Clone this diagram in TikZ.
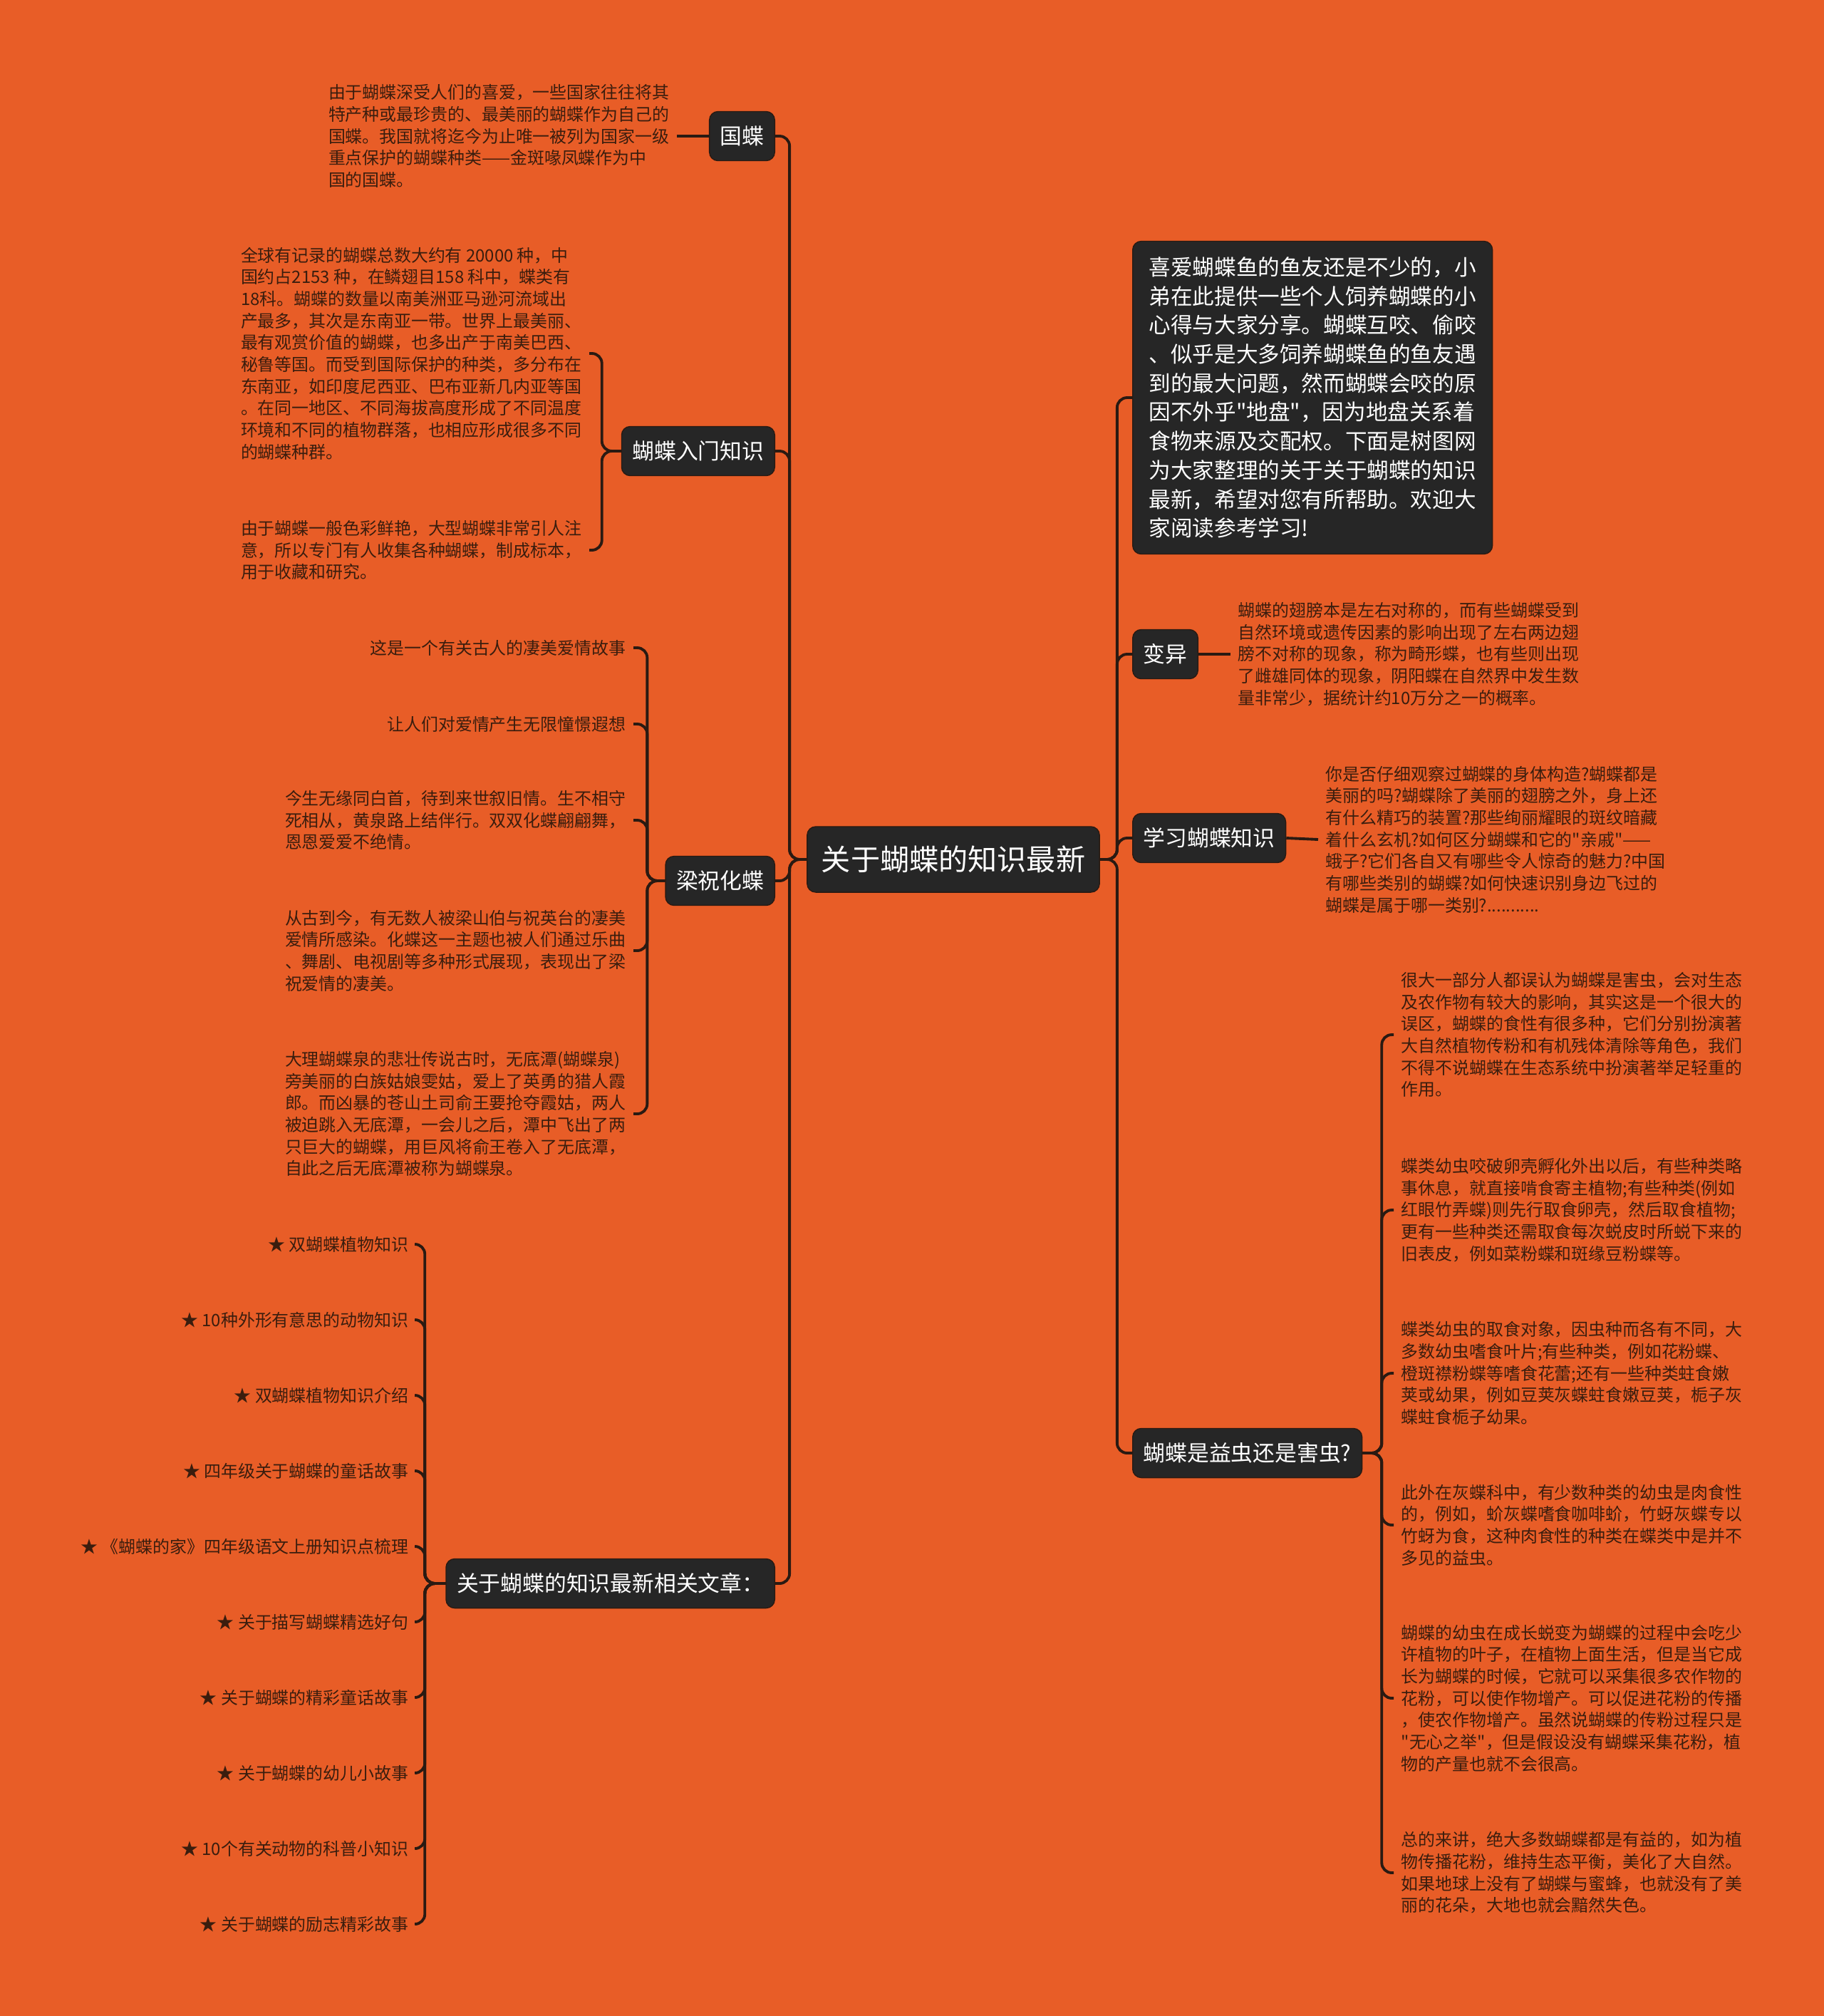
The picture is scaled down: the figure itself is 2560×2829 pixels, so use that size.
\documentclass[tikz,border=0pt]{standalone}
\usepackage{fontspec}
\setmainfont{Noto Sans CJK SC}
\newfontfamily\cjkfont{Noto Sans CJK SC}
\usepackage{xcolor}
\usepackage{tikz}
\usetikzlibrary{positioning}

\definecolor{bgorange}{HTML}{E85D27}
\definecolor{boxgray}{HTML}{262626}
\definecolor{linkbrown}{HTML}{2A1A12}
\definecolor{leafbrown}{HTML}{3A1D0E}

\newcommand{\txtsize}{\cjkfont\fontsize{6.8pt}{8.73pt}\selectfont}
\newcommand{\lblsize}{\cjkfont\fontsize{8.76pt}{11pt}\selectfont}
\newcommand{\introsize}{\cjkfont\fontsize{8.7pt}{11.58pt}\selectfont}
\newcommand{\rootsize}{\cjkfont\fontsize{11.7pt}{14pt}\selectfont}

\tikzset{
  link/.style={draw=linkbrown,line width=1.1pt,rounded corners=0.14cm},
  topic/.style={fill=boxgray,draw=linkbrown,line width=0.4pt,rounded corners=0.12cm,
    text=white,font=\lblsize,inner xsep=0.15cm,inner ysep=0pt,minimum height=0.69cm},
  leaf/.style={text=leafbrown,font=\txtsize,inner xsep=0.1cm,inner ysep=0pt,align=left},
}

\begin{document}
\begin{tikzpicture}[x=0.01cm,y=-0.01cm]
  \fill[bgorange] (0,0) rectangle (2560,2829);
  \useasboundingbox (0,0) rectangle (2560,2829);

  % centre
  \node[topic,font=\rootsize,inner xsep=0.2cm,minimum height=0.92cm] (root) at (1338,1206) {关于蝴蝶的知识最新};

  % left branches
  \node[topic,anchor=east] (guodie) at (1088,191) {国蝶};
  \node[topic,anchor=east] (rumen) at (1088,633) {蝴蝶入门知识};
  \node[topic,anchor=east] (liangzhu) at (1088,1236) {梁祝化蝶};
  \node[topic,anchor=east] (wenzhang) at (1088,2222) {关于蝴蝶的知识最新相关文章：};

  % right branches
  \node[topic,anchor=west,font=\introsize,inner xsep=0.23cm,inner ysep=0.22cm,align=left] (intro) at (1589,558)
    {喜爱蝴蝶鱼的鱼友还是不少的，小\\弟在此提供一些个人饲养蝴蝶的小\\心得与大家分享。蝴蝶互咬、偷咬\\、似乎是大多饲养蝴蝶鱼的鱼友遇\\到的最大问题，然而蝴蝶会咬的原\\因不外乎"地盘"，因为地盘关系着\\食物来源及交配权。下面是树图网\\为大家整理的关于关于蝴蝶的知识\\最新，希望对您有所帮助。欢迎大\\家阅读参考学习!};
  \node[topic,anchor=west] (bianyi) at (1589,918) {变异};
  \node[topic,anchor=west] (xuexi) at (1589,1176) {学习蝴蝶知识};
  \node[topic,anchor=west] (yichong) at (1589,2039) {蝴蝶是益虫还是害虫?};

  \foreach \b in {guodie,rumen,liangzhu,wenzhang}
    \draw[link] (root.west) -- ++(-24,0) |- (\b.east);
  \foreach \b in {intro,bianyi,xuexi,yichong}
    \draw[link] (root.east) -- ++(24,0) |- (\b.west);

  % 国蝶
  \node[leaf,anchor=east] (gd1) at (950,191) {由于蝴蝶深受人们的喜爱，一些国家往往将其\\特产种或最珍贵的、最美丽的蝴蝶作为自己的\\国蝶。我国就将迄今为止唯一被列为国家一级\\重点保护的蝴蝶种类——金斑喙凤蝶作为中\\国的国蝶。};
  \draw[link] (guodie.west) -- (gd1.east);

  % 蝴蝶入门知识
  \node[leaf,anchor=east] (rm1) at (827,496) {全球有记录的蝴蝶总数大约有 20000 种，中\\国约占2153 种，在鳞翅目158 科中，蝶类有\\18科。蝴蝶的数量以南美洲亚马逊河流域出\\产最多，其次是东南亚一带。世界上最美丽、\\最有观赏价值的蝴蝶，也多出产于南美巴西、\\秘鲁等国。而受到国际保护的种类，多分布在\\东南亚，如印度尼西亚、巴布亚新几内亚等国\\。在同一地区、不同海拔高度形成了不同温度\\环境和不同的植物群落，也相应形成很多不同\\的蝴蝶种群。};
  \node[leaf,anchor=east] (rm2) at (827,772) {由于蝴蝶一般色彩鲜艳，大型蝴蝶非常引人注\\意，所以专门有人收集各种蝴蝶，制成标本，\\用于收藏和研究。};
  \foreach \c in {rm1,rm2}
    \draw[link] (rumen.west) -- ++(-27,0) |- (\c.east);

  % 梁祝化蝶
  \node[leaf,anchor=east] (lz1) at (889,909) {这是一个有关古人的凄美爱情故事};
  \node[leaf,anchor=east] (lz2) at (889,1016) {让人们对爱情产生无限憧憬遐想};
  \node[leaf,anchor=east] (lz3) at (889,1151) {今生无缘同白首，待到来世叙旧情。生不相守\\死相从，黄泉路上结伴行。双双化蝶翩翩舞，\\恩恩爱爱不绝情。};
  \node[leaf,anchor=east] (lz4) at (889,1334) {从古到今，有无数人被梁山伯与祝英台的凄美\\爱情所感染。化蝶这一主题也被人们通过乐曲\\、舞剧、电视剧等多种形式展现，表现出了梁\\祝爱情的凄美。};
  \node[leaf,anchor=east] (lz5) at (889,1563) {大理蝴蝶泉的悲壮传说古时，无底潭(蝴蝶泉)\\旁美丽的白族姑娘雯姑，爱上了英勇的猎人霞\\郎。而凶暴的苍山土司俞王要抢夺霞姑，两人\\被迫跳入无底潭，一会儿之后，潭中飞出了两\\只巨大的蝴蝶，用巨风将俞王卷入了无底潭，\\自此之后无底潭被称为蝴蝶泉。};
  \foreach \c in {lz1,lz2,lz3,lz4,lz5}
    \draw[link] (liangzhu.west) -- ++(-25,0) |- (\c.east);

  % related articles
  \foreach \t [count=\i] in {双蝴蝶植物知识,10种外形有意思的动物知识,双蝴蝶植物知识介绍,四年级关于蝴蝶的童话故事,《蝴蝶的家》四年级语文上册知识点梳理,关于描写蝴蝶精选好句,关于蝴蝶的精彩童话故事,关于蝴蝶的幼儿小故事,10个有关动物的科普小知识,关于蝴蝶的励志精彩故事}
    \node[leaf,anchor=east] (wz\i) at (584,{1746+(\i-1)*106}) {★ \t};
  \foreach \i in {1,...,10}
    \draw[link] (wenzhang.west) -- ++(-29,0) |- (wz\i.east);

  % 变异, 学习蝴蝶知识
  \node[leaf,anchor=west] (by1) at (1727,918) {蝴蝶的翅膀本是左右对称的，而有些蝴蝶受到\\自然环境或遗传因素的影响出现了左右两边翅\\膀不对称的现象，称为畸形蝶，也有些则出现\\了雌雄同体的现象，阴阳蝶在自然界中发生数\\量非常少，据统计约10万分之一的概率。};
  \draw[link] (bianyi.east) -- (by1.west);
  \node[leaf,anchor=west] (xx1) at (1850,1178) {你是否仔细观察过蝴蝶的身体构造?蝴蝶都是\\美丽的吗?蝴蝶除了美丽的翅膀之外，身上还\\有什么精巧的装置?那些绚丽耀眼的斑纹暗藏\\着什么玄机?如何区分蝴蝶和它的"亲戚"——\\蛾子?它们各自又有哪些令人惊奇的魅力?中国\\有哪些类别的蝴蝶?如何快速识别身边飞过的\\蝴蝶是属于哪一类别?...........};
  \draw[link] (xuexi.east) -- (xx1.west);

  % 益虫还是害虫
  \node[leaf,anchor=west] (yc1) at (1956,1452) {很大一部分人都误认为蝴蝶是害虫，会对生态\\及农作物有较大的影响，其实这是一个很大的\\误区，蝴蝶的食性有很多种，它们分别扮演著\\大自然植物传粉和有机残体清除等角色，我们\\不得不说蝴蝶在生态系统中扮演著举足轻重的\\作用。};
  \node[leaf,anchor=west] (yc2) at (1956,1698) {蝶类幼虫咬破卵壳孵化外出以后，有些种类略\\事休息，就直接啃食寄主植物;有些种类(例如\\红眼竹弄蝶)则先行取食卵壳，然后取食植物;\\更有一些种类还需取食每次蜕皮时所蜕下来的\\旧表皮，例如菜粉蝶和斑缘豆粉蝶等。};
  \node[leaf,anchor=west] (yc3) at (1956,1927) {蝶类幼虫的取食对象，因虫种而各有不同，大\\多数幼虫嗜食叶片;有些种类，例如花粉蝶、\\橙斑襟粉蝶等嗜食花蕾;还有一些种类蛀食嫩\\荚或幼果，例如豆荚灰蝶蛀食嫩豆荚，栀子灰\\蝶蛀食栀子幼果。};
  \node[leaf,anchor=west] (yc4) at (1956,2140) {此外在灰蝶科中，有少数种类的幼虫是肉食性\\的，例如，蚧灰蝶嗜食咖啡蚧，竹蚜灰蝶专以\\竹蚜为食，这种肉食性的种类在蝶类中是并不\\多见的益虫。};
  \node[leaf,anchor=west] (yc5) at (1956,2383) {蝴蝶的幼虫在成长蜕变为蝴蝶的过程中会吃少\\许植物的叶子，在植物上面生活，但是当它成\\长为蝴蝶的时候，它就可以采集很多农作物的\\花粉，可以使作物增产。可以促进花粉的传播\\，使农作物增产。虽然说蝴蝶的传粉过程只是\\"无心之举"，但是假设没有蝴蝶采集花粉，植\\物的产量也就不会很高。};
  \node[leaf,anchor=west] (yc6) at (1956,2628) {总的来讲，绝大多数蝴蝶都是有益的，如为植\\物传播花粉，维持生态平衡，美化了大自然。\\如果地球上没有了蝴蝶与蜜蜂，也就没有了美\\丽的花朵，大地也就会黯然失色。};
  \foreach \c in {yc1,yc2,yc3,yc4,yc5,yc6}
    \draw[link] (yichong.east) -- ++(27,0) |- (\c.west);
\end{tikzpicture}
\end{document}
